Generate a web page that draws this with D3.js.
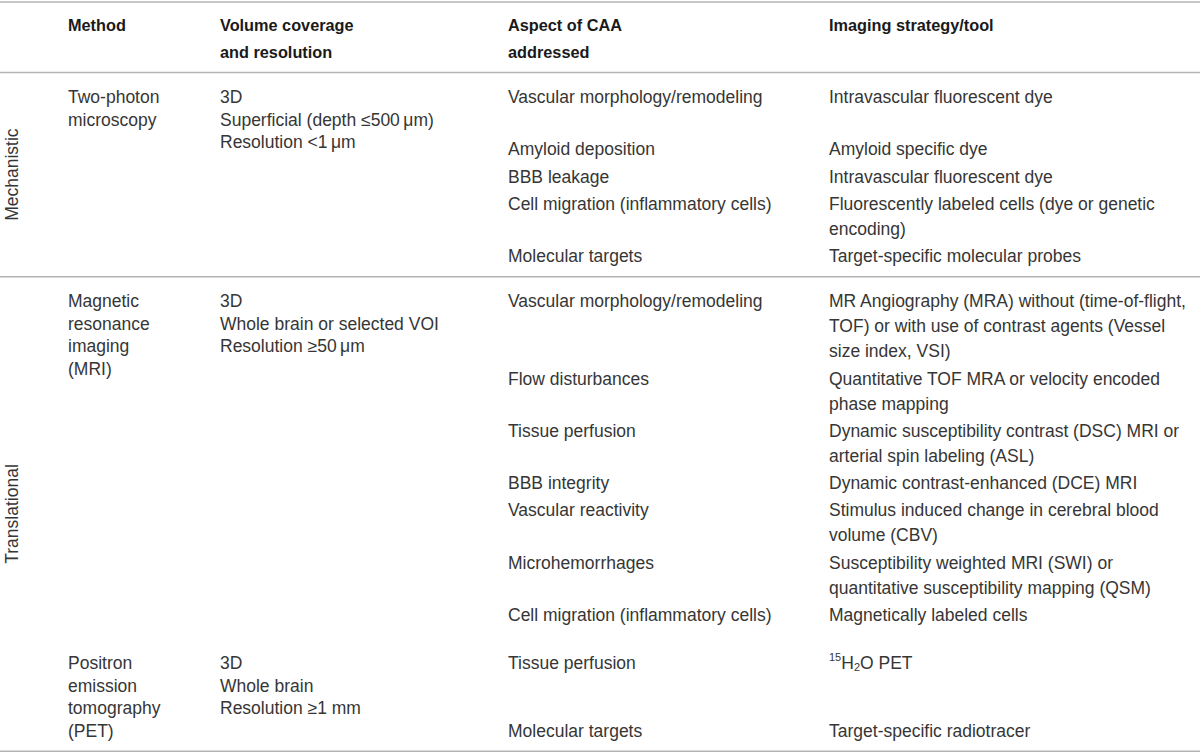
<!DOCTYPE html>
<html>
<head>
<meta charset="utf-8">
<script src="https://cdn.jsdelivr.net/npm/d3@7/dist/d3.min.js"></script>
<style>
  html, body { margin: 0; padding: 0; background: #fff; }
  svg { display: block; }
  text { font-family: "Liberation Sans", Arial, sans-serif; }
  .head { font-size: 16.3px; font-weight: bold; fill: #1a1a1a; }
  .cell { font-size: 17.5px; fill: #363636; }
  .group { font-size: 17.5px; fill: #363636; }
  .rule { stroke: #b4b4b4; stroke-width: 1.5; }
</style>
</head>
<body>
<svg id="chart" width="1200" height="755"></svg>
<script>
// table contents
var groups = ["Mechanistic", "Translational"];

var headers = [
	["Method"],
	["Volume coverage", "and resolution"],
	["Aspect of CAA", "addressed"],
	["Imaging strategy/tool"]
];

var methods = [
	{group: 0, name: ["Two-photon", "microscopy"],
		volume: ["3D", "Superficial (depth \u2264500\u2009\u03bcm)", "Resolution <1\u2009\u03bcm"]},
	{group: 1, name: ["Magnetic", "resonance", "imaging", "(MRI)"],
		volume: ["3D", "Whole brain or selected VOI", "Resolution \u226550\u2009\u03bcm"]},
	{group: 1, name: ["Positron", "emission", "tomography", "(PET)"],
		volume: ["3D", "Whole brain", "Resolution \u22651 mm"]}
];

// aspect rows, each tied to a method (slots = text lines the row takes)
var aspects = [
	{method: 0, slots: 2, aspect: ["Vascular morphology/remodeling"], tool: ["Intravascular fluorescent dye"]},
	{method: 0, aspect: ["Amyloid deposition"], tool: ["Amyloid specific dye"]},
	{method: 0, aspect: ["BBB leakage"], tool: ["Intravascular fluorescent dye"]},
	{method: 0, aspect: ["Cell migration (inflammatory cells)"], tool: ["Fluorescently labeled cells (dye or genetic", "encoding)"]},
	{method: 0, aspect: ["Molecular targets"], tool: ["Target-specific molecular probes"]},
	{method: 1, aspect: ["Vascular morphology/remodeling"], tool: ["MR Angiography (MRA) without (time-of-flight,", "TOF) or with use of contrast agents (Vessel", "size index, VSI)"]},
	{method: 1, aspect: ["Flow disturbances"], tool: ["Quantitative TOF MRA or velocity encoded", "phase mapping"]},
	{method: 1, aspect: ["Tissue perfusion"], tool: ["Dynamic susceptibility contrast (DSC) MRI or", "arterial spin labeling (ASL)"]},
	{method: 1, aspect: ["BBB integrity"], tool: ["Dynamic contrast-enhanced (DCE) MRI"]},
	{method: 1, aspect: ["Vascular reactivity"], tool: ["Stimulus induced change in cerebral blood", "volume (CBV)"]},
	{method: 1, aspect: ["Microhemorrhages"], tool: ["Susceptibility weighted MRI (SWI) or", "quantitative susceptibility mapping (QSM)"]},
	{method: 1, aspect: ["Cell migration (inflammatory cells)"], tool: ["Magnetically labeled cells"]},
	{method: 2, aspect: ["Tissue perfusion"], tool: ["<sup>15</sup>H<sub>2</sub>O PET"]},
	{method: 2, aspect: ["Molecular targets"], tool: ["Target-specific radiotracer"]}
];

var svg = d3.select("#chart"),
	width = +svg.attr("width");

var colX = d3.scaleOrdinal()
	.domain(["method", "volume", "aspect", "tool"])
	.range([68, 220, 508, 829]);

var lhLeft = 22.5, lhRight = 25, rowPad = 2.3,
	topOff = 24.5, botOff = 20.5, blockGap = 21,
	headRuleY = 72.5;

// work out where every line of text goes
var cells = [];
var rules = [2, headRuleY];
var groupSpans = [];

var y = headRuleY;
groups.forEach(function(g, gi) {
	var top = y;
	var start = y + topOff;
	var lastCenter = start;
	methods.forEach(function(m, mi) {
		if (m.group !== gi) return;
		var rows = aspects.filter(function(a) { return a.method === mi; });
		var heights = rows.map(function(r) {
			var n = r.slots || Math.max(r.aspect.length, r.tool.length);
			return n * lhRight + rowPad;
		});
		// stretch the first row so the last row lines up with the last method line
		var leftLast = (m.name.length - 1) * lhLeft;
		var before = d3.sum(heights.slice(0, -1));
		if (rows.length > 1 && before < leftLast) heights[0] += leftLast - before;

		m.name.forEach(function(t, i) { cells.push({col: "method", text: t, y: start + i * lhLeft}); });
		m.volume.forEach(function(t, i) { cells.push({col: "volume", text: t, y: start + i * lhLeft}); });

		var cy = start, end = start + leftLast;
		rows.forEach(function(r, ri) {
			r.aspect.forEach(function(t, i) { cells.push({col: "aspect", text: t, y: cy + i * lhRight}); });
			r.tool.forEach(function(t, i) { cells.push({col: "tool", text: t, y: cy + i * lhRight}); });
			var n = Math.max(r.aspect.length, r.tool.length);
			end = Math.max(end, cy + (n - 1) * lhRight);
			cy += heights[ri];
		});
		lastCenter = end;
		start = end + lhRight + rowPad + blockGap;
	});
	y = lastCenter + botOff;
	rules.push(y);
	groupSpans.push({name: g, y0: top, y1: y});
});

// horizontal rules
svg.selectAll("line.rule")
	.data(rules)
	.enter().append("line")
	.attr("class", "rule")
	.attr("x1", 0)
	.attr("x2", width)
	.attr("y1", function(d) { return d; })
	.attr("y2", function(d) { return d; });

// column headers
var headCells = [];
headers.forEach(function(h, i) {
	h.forEach(function(t, j) { headCells.push({col: colX.domain()[i], text: t, y: 25 + j * 27}); });
});

svg.selectAll("text.head")
	.data(headCells)
	.enter().append("text")
	.attr("class", "head")
	.attr("x", function(d) { return colX(d.col); })
	.attr("y", function(d) { return d.y; })
	.attr("dominant-baseline", "central")
	.text(function(d) { return d.text; });

// rotated group labels
svg.selectAll("text.group")
	.data(groupSpans)
	.enter().append("text")
	.attr("class", "group")
	.attr("text-anchor", "middle")
	.attr("dominant-baseline", "central")
	.attr("transform", function(d) { return "translate(12," + (d.y0 + d.y1) / 2 + ") rotate(-90)"; })
	.text(function(d) { return d.name; });

// body cells, with <sup>/<sub> split into tspans
function pieces(s) {
	var out = [], re = /<(sup|sub)>(.*?)<\/\1>/g, last = 0, m;
	while ((m = re.exec(s)) !== null) {
		if (m.index > last) out.push({t: s.slice(last, m.index), k: null});
		out.push({t: m[2], k: m[1]});
		last = re.lastIndex;
	}
	if (last < s.length) out.push({t: s.slice(last), k: null});
	return out;
}

var cellText = svg.selectAll("text.cell")
	.data(cells)
	.enter().append("text")
	.attr("class", "cell")
	.attr("x", function(d) { return colX(d.col); })
	.attr("y", function(d) { return d.y; })
	.attr("dominant-baseline", "central");

cellText.each(function(d) {
	var node = d3.select(this), shift = 0;
	pieces(d.text).forEach(function(p) {
		var target = p.k === "sup" ? -6 : p.k === "sub" ? 4 : 0;
		node.append("tspan")
			.attr("dy", target - shift)
			.style("font-size", p.k ? "11px" : null)
			.text(p.t);
		shift = target;
	});
});
</script>
</body>
</html>
